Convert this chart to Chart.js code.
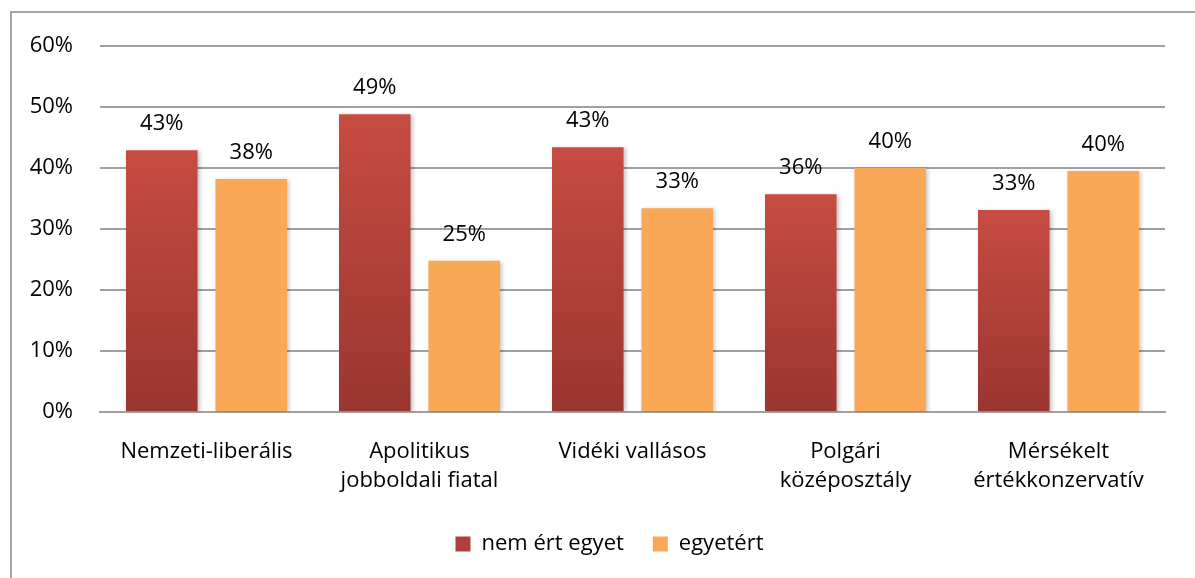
<!DOCTYPE html>
<html lang="hu">
<head>
<meta charset="UTF-8">
<title>nem ért egyet / egyetért</title>
<script src="https://cdn.jsdelivr.net/npm/chart.js"></script>
<style>
  html, body { margin: 0; padding: 0; background: #fff; }
  .wrap { position: relative; width: 1195px; height: 578px; overflow: hidden; }
  .frame { position: absolute; left: 10px; top: 11px; width: 1200px; height: 600px; border: 2px solid #a6a6a6; box-sizing: border-box; }
  canvas { position: absolute; left: 0; top: 0; }
</style>
</head>
<body>
<div class="wrap">
  <div class="frame"></div>
  <canvas id="chart" width="1195" height="578"></canvas>
</div>
<script>
// adatok
const categories = [
  'Nemzeti-liberális',
  ['Apolitikus', 'jobboldali fiatal'],
  'Vidéki vallásos',
  ['Polgári', 'középosztály'],
  ['Mérsékelt', 'értékkonzervatív']
];
const nemErtEgyet = [42.9, 48.8, 43.4, 35.7, 33.1];
const egyetert = [38.2, 24.8, 33.4, 40.0, 39.5];
const yTicks = [0, 10, 20, 30, 40, 50, 60];

const FONT = '"Open Sans", Lato, sans-serif';
const FS = 22;

function redGradient(ctx) {
  const chart = ctx.chart;
  const y = chart.scales && chart.scales.y;
  if (!chart.chartArea || !y || ctx.type !== 'data') return '#b0413a';
  const top = y.getPixelForValue(ctx.raw);
  const bottom = y.getPixelForValue(0);
  const g = chart.ctx.createLinearGradient(0, top, 0, bottom);
  g.addColorStop(0, '#c74c42');
  g.addColorStop(1, '#9a3530');
  return g;
}

const barShadow = {
  id: 'barShadow',
  beforeDatasetsDraw(chart) {
    const c = chart.ctx;
    c.save();
    c.shadowColor = 'rgba(0,0,0,0.22)';
    c.shadowBlur = 4;
    c.shadowOffsetX = 2;
    c.shadowOffsetY = 1;
  },
  afterDatasetsDraw(chart) {
    chart.ctx.restore();
  }
};

const valueLabels = {
  id: 'valueLabels',
  afterDatasetsDraw(chart) {
    const c = chart.ctx;
    c.save();
    c.font = FS + 'px ' + FONT;
    c.fillStyle = '#000';
    c.textAlign = 'center';
    c.textBaseline = 'alphabetic';
    chart.data.datasets.forEach((ds, i) => {
      chart.getDatasetMeta(i).data.forEach((bar, j) => {
        c.fillText(Math.round(ds.data[j]) + '%', bar.x, bar.y - 20);
      });
    });
    c.restore();
  }
};

// a jelmagyarázat kicsit jobbra tolva, mint az eredetin
const legendShift = {
  id: 'legendShift',
  afterLayout(chart) {
    if (chart.legend) {
      chart.legend.left += 27;
      chart.legend.right += 27;
    }
  }
};

new Chart(document.getElementById('chart'), {
  type: 'bar',
  data: {
    labels: categories,
    datasets: [
      { label: 'nem ért egyet', data: nemErtEgyet, backgroundColor: redGradient },
      { label: 'egyetért', data: egyetert, backgroundColor: '#f9a857' }
    ]
  },
  options: {
    responsive: false,
    animation: false,
    devicePixelRatio: 1,
    categoryPercentage: 0.84,
    barPercentage: 0.8,
    layout: { padding: { top: 46, right: 30, bottom: 13, left: 0 } },
    plugins: {
      tooltip: { enabled: false },
      legend: {
        position: 'bottom',
        labels: {
          font: { family: FONT, size: FS },
          color: '#000',
          boxWidth: 15,
          boxHeight: 15,
          padding: 29,
          generateLabels(chart) {
            return chart.data.datasets.map((ds, i) => ({
              text: ds.label,
              fillStyle: i === 0 ? '#b0413a' : '#f9a857',
              strokeStyle: 'transparent',
              lineWidth: 0,
              datasetIndex: i
            }));
          }
        }
      }
    },
    scales: {
      x: {
        afterFit(scale) { scale.height = 92; },
        grid: { display: false, drawTicks: false },
        border: { color: '#a0a0a0', width: 2 },
        ticks: { color: '#000', font: { family: FONT, size: FS, lineHeight: 1.32 }, padding: 25, maxRotation: 0 }
      },
      y: {
        min: 0,
        max: 60,
        afterFit(scale) { scale.width = 100; },
        afterBuildTicks(scale) { scale.ticks = yTicks.map(v => ({ value: v })); },
        grid: { color: '#a0a0a0', lineWidth: 2, drawTicks: false },
        border: { display: false },
        ticks: {
          color: '#000',
          font: { family: FONT, size: FS },
          padding: 27,
          callback: v => v + '%'
        }
      }
    }
  },
  plugins: [barShadow, valueLabels, legendShift]
});
</script>
</body>
</html>
